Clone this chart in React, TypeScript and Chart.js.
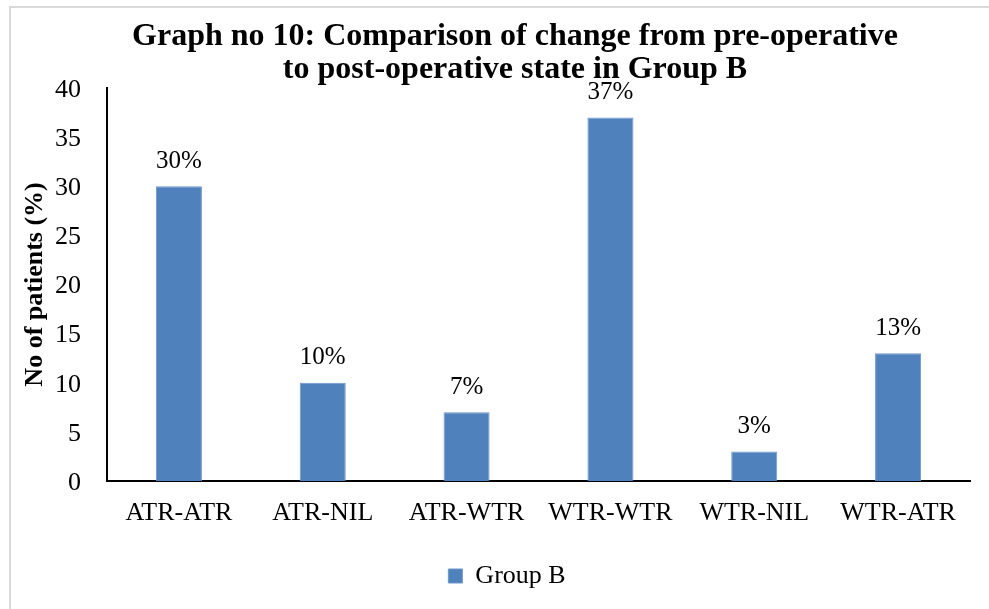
import React, { useEffect, useRef } from "react";
import { Chart, registerables } from "chart.js";

Chart.register(...registerables);

const categories = ["ATR-ATR", "ATR-NIL", "ATR-WTR", "WTR-WTR", "WTR-NIL", "WTR-ATR"];
const groupBValues = [30, 10, 7, 37, 3, 13];
const seriesLabel = "Group B";
const titleLines = [
  "Graph no 10: Comparison of change from pre-operative",
  "to post-operative state in Group B",
];
const yAxisTitle = "No of patients (%)";
const yMin = 0;
const yMax = 40;
const yStep = 5;

const FONT = "'Liberation Serif', 'Times New Roman', serif";

const frameAndLabels = {
  id: "frameAndLabels",
  afterLayout(chart: any) {
    const tb = chart.titleBlock;
    if (tb) {
      tb.left += 8;
      tb.right += 8;
    }
  },
  beforeDraw(chart: any) {
    const ctx = chart.ctx;
    ctx.save();
    ctx.fillStyle = "#ffffff";
    ctx.fillRect(0, 0, chart.width, chart.height);
    ctx.strokeStyle = "#d9d9d9";
    ctx.lineWidth = 2;
    ctx.strokeRect(10, 7, chart.width + 10, chart.height + 10);
    ctx.restore();
  },
  afterDatasetsDraw(chart: any) {
    const ctx = chart.ctx;
    const meta = chart.getDatasetMeta(0);
    const data = chart.data.datasets[0].data;
    ctx.save();
    ctx.fillStyle = "#000000";
    ctx.font = `25px ${FONT}`;
    ctx.textAlign = "center";
    ctx.textBaseline = "middle";
    meta.data.forEach((bar: any, i: number) => {
      ctx.fillText(`${data[i]}%`, bar.x, bar.y - 25);
    });
    ctx.restore();
  },
};

export default function App() {
  const canvasRef = useRef<HTMLCanvasElement | null>(null);

  useEffect(() => {
    document.body.style.margin = "0";
    const canvas = canvasRef.current;
    if (!canvas) return;
    const chart = new Chart(canvas, {
      type: "bar",
      data: {
        labels: categories,
        datasets: [
          {
            label: seriesLabel,
            data: groupBValues,
            backgroundColor: "#4F81BD",
            borderColor: "#6E97CB",
            borderWidth: 1,
            categoryPercentage: 1,
            barPercentage: 0.32,
          },
        ],
      },
      options: {
        responsive: false,
        animation: false,
        devicePixelRatio: 1,
        layout: { padding: { left: 44, right: 19, top: 0, bottom: 10 } },
        plugins: {
          title: {
            display: true,
            text: titleLines,
            color: "#000000",
            font: { family: FONT, size: 32, weight: "bold", lineHeight: 1.03 },
            padding: { top: 20, bottom: 2 },
          },
          legend: {
            display: true,
            position: "bottom",
            labels: {
              color: "#000000",
              font: { family: FONT, size: 26 },
              boxWidth: 14,
              boxHeight: 14,
              padding: 10,
            },
          },
          tooltip: { enabled: false },
        },
        scales: {
          x: {
            grid: { display: false, drawTicks: false },
            border: { display: true, color: "#000000", width: 2 },
            ticks: {
              color: "#000000",
              font: { family: FONT, size: 26 },
              padding: 17,
              maxRotation: 0,
              autoSkip: false,
            },
            afterFit(scale: any) {
              scale.height = 72;
            },
          },
          y: {
            min: yMin,
            max: yMax,
            grid: { display: false, drawTicks: false },
            border: { display: true, color: "#000000", width: 2 },
            ticks: {
              stepSize: yStep,
              color: "#000000",
              font: { family: FONT, size: 26 },
              padding: 26,
              labelOffset: 2,
            },
            title: {
              display: true,
              text: yAxisTitle,
              color: "#000000",
              font: { family: FONT, size: 26, weight: "bold", lineHeight: 1.2 },
              padding: { top: -24.6, bottom: 0 },
            },
            afterFit(scale: any) {
              scale.width = 63;
            },
          },
        },
      },
      plugins: [frameAndLabels],
    });
    return () => chart.destroy();
  }, []);

  return (
    <div style={{ width: 989, height: 609 }}>
      <canvas ref={canvasRef} width={989} height={609} />
    </div>
  );
}
